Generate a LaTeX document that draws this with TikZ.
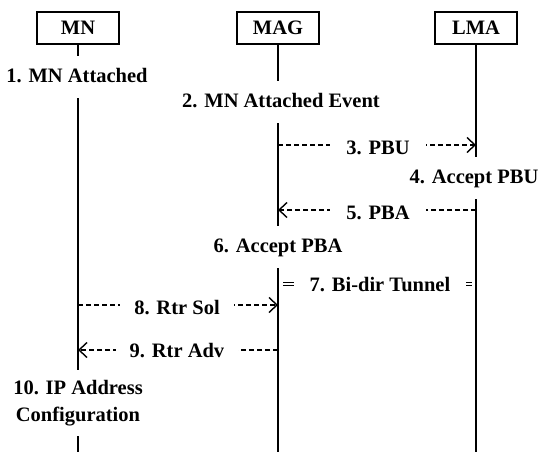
\documentclass[tikz,border=0pt]{standalone}
\usepackage{fontspec}
\setmainfont{Liberation Serif}
\usetikzlibrary{arrows.meta,positioning}

\begin{document}
\begin{tikzpicture}[x=1pt,y=-1pt,font=\fontsize{20.5}{27}\selectfont\bfseries,
  ent/.style={draw,line width=1.5pt,minimum width=82pt,minimum height=32pt,inner sep=0pt},
  life/.style={line width=2pt},
  msg/.style={line width=1.2pt,dash pattern=on 5pt off 3pt,-{Straight Barb[length=8pt,width=15pt,line width=1.4pt]}},
  tunnel/.style={double,double distance=2.5pt,line width=0.9pt,shorten <=5pt,shorten >=4pt},
  note/.style={fill=white,inner xsep=4pt,inner ysep=12pt,text height=14pt,text depth=4pt},
  lbl/.style={fill=white,inner xsep=16pt,inner ysep=2pt,text height=14pt,text depth=4pt}]
  \useasboundingbox (0,0) rectangle (540,452);
  \node[ent] (mn) at (78,28) {MN};
  \node[ent] (mag) at (278,28) {MAG};
  \node[ent] (lma) at (476,28) {LMA};
  \coordinate (mnEnd) at (78,452); \coordinate (magEnd) at (278,452); \coordinate (lmaEnd) at (476,452);
  \draw[life] (mn.south)--(mnEnd); \draw[life] (mag.south)--(magEnd); \draw[life] (lma.south)--(lmaEnd);
  \node[note] (s1) at (77,77) {1. MN Attached};
  \node[note] (s2) at (281,102) {2. MN Attached Event};
  \coordinate (mag3) at (278,145); \coordinate (lma3) at (476,145);
  \draw[msg] (mag3)--(lma3); \node[lbl] (l3) at (378,149) {3. PBU};
  \node[note] (s4) at (474,178) {4. Accept PBU};
  \coordinate (lma5) at (476,210); \coordinate (mag5) at (278,210);
  \draw[msg] (lma5)--(mag5); \node[lbl] (l5) at (378,214) {5. PBA};
  \node[note] (s6) at (278,247) {6. Accept PBA};
  \coordinate (mag7) at (278,284); \coordinate (lma7) at (476,284);
  \draw[tunnel] (mag7)--(lma7); \node[lbl] (l7) at (380,286) {7. Bi-dir Tunnel};
  \coordinate (mn8) at (78,305); \coordinate (mag8) at (278,305);
  \draw[msg] (mn8)--(mag8); \node[lbl,inner xsep=14pt] (l8) at (177,309) {8. Rtr Sol};
  \coordinate (mag9) at (278,350); \coordinate (mn9) at (78,350);
  \draw[msg] (mag9)--(mn9); \node[lbl,inner xsep=14pt] (l9) at (177,352) {9. Rtr Adv};
  \node[fill=white,align=center,inner xsep=4pt,inner ysep=10pt] (s10) at (78,403) {10. IP Address\\Configuration};
\end{tikzpicture}
\end{document}
